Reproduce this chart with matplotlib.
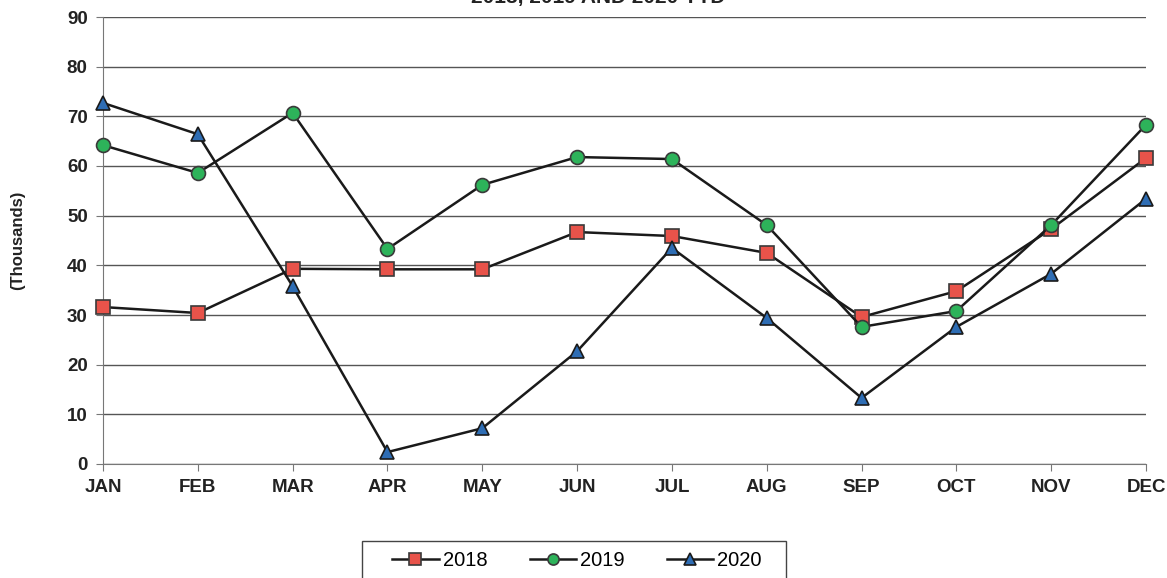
import matplotlib.pyplot as plt
from matplotlib.patches import Rectangle

plt.rcParams['font.family'] = ['Liberation Sans', 'DejaVu Sans']

months = ['JAN', 'FEB', 'MAR', 'APR', 'MAY', 'JUN', 'JUL', 'AUG', 'SEP', 'OCT', 'NOV', 'DEC']
y2018 = [31.6, 30.4, 39.3, 39.2, 39.2, 46.7, 45.9, 42.5, 29.6, 34.8, 47.3, 61.6]
y2019 = [64.2, 58.6, 70.7, 43.3, 56.2, 61.8, 61.4, 48.1, 27.6, 30.8, 48.1, 68.3]
y2020 = [72.7, 66.4, 35.8, 2.4, 7.2, 22.7, 43.5, 29.4, 13.3, 27.6, 38.3, 53.4]

W, H = 1167, 578
fig = plt.figure(figsize=(W / 100, H / 100), dpi=100)
ax = fig.add_axes([103 / W, 1 - 464 / H, (1146 - 103) / W, (464 - 17) / H])

x = range(len(months))
ax.plot(x, y2018, color='#1a1a1a', lw=1.8, marker='s', ms=10, mfc='#e8534a', mec='#3a3a3a', mew=1.2, label='2018', zorder=3)
ax.plot(x, y2019, color='#1a1a1a', lw=1.8, marker='o', ms=10, mfc='#2db35a', mec='#3a3a3a', mew=1.2, label='2019', zorder=3)
ax.plot(x, y2020, color='#1a1a1a', lw=1.8, marker='^', ms=10, mfc='#2e6db4', mec='#1a1a1a', mew=1.2, label='2020', zorder=3)

ax.set_xlim(0, 11)
ax.set_ylim(0, 90)
ax.set_yticks(range(0, 91, 10))
ax.set_xticks(list(x))
ax.set_xticklabels(months)
ax.yaxis.grid(True, color='#555555', lw=1.0)
ax.set_axisbelow(True)
for s in ['top', 'right']:
    ax.spines[s].set_visible(False)
ax.spines['left'].set_color('#777777')
ax.spines['bottom'].set_color('#777777')
ax.tick_params(axis='both', direction='out', length=5, color='#777777', labelsize=13.5, pad=6)
for lab in ax.get_xticklabels() + ax.get_yticklabels():
    lab.set_fontweight('bold')
    lab.set_color('#222222')
ax.set_ylabel('(Thousands)', fontsize=12, fontweight='bold', labelpad=30, color='#222222')
for sp in ax.spines.values():
    sp.set_clip_on(False)
for ln in ax.lines:
    ln.set_clip_on(False)

# title sits partly above the top edge, as in the scanned original
fig.text(598 / W, 1.004, '2018, 2019 AND 2020 YTD', ha='center', va='center', fontsize=15, fontweight='bold', color='#222222')

leg = fig.legend(loc='center', bbox_to_anchor=(577 / W, 1 - 561 / H), ncol=3, fontsize=14.5,
                 frameon=False, handlelength=2.3, handletextpad=0.2, columnspacing=2.1, borderaxespad=0)
for h in leg.legend_handles:
    h.set_markersize(8)
fig.patches.append(Rectangle((362 / W, -0.05), (786 - 362) / W, 0.05 + (578 - 541) / H,
                             transform=fig.transFigure, fill=False, edgecolor='#444444', lw=1.0))

fig.savefig('out.png', dpi=100)
